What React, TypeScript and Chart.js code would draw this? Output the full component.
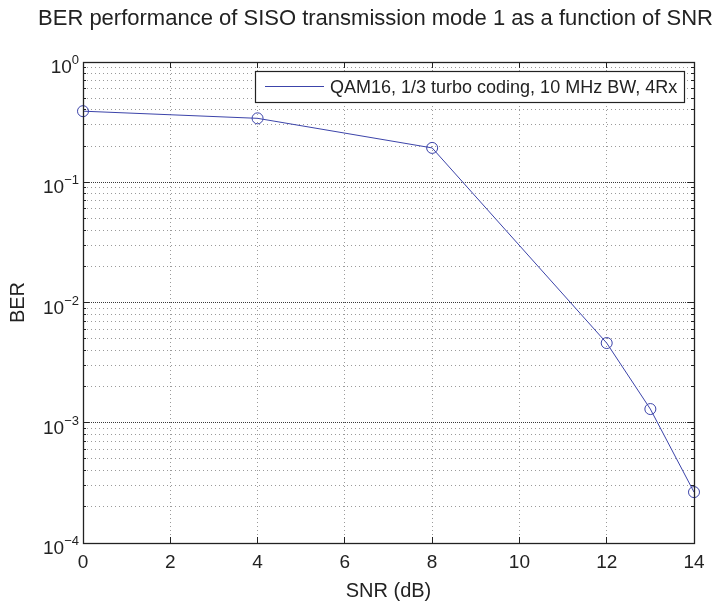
import { useEffect, useRef } from 'react';
import { Chart, registerables } from 'chart.js';

Chart.register(...registerables);

// ---- data ----
const snrDb = [0, 4, 8, 12, 13, 14];
const ber = [0.39, 0.34, 0.193, 0.0046, 0.0013, 0.000265];
const xTickValues = [0, 2, 4, 6, 8, 10, 12, 14];
const yDecadeExponents = [-4, -3, -2, -1, 0];
const yMinorMultipliers = [1, 2, 3, 4, 5, 6, 7, 8, 9];
const seriesLabel = 'QAM16, 1/3 turbo coding, 10 MHz BW, 4Rx';
const chartTitle = 'BER performance of SISO transmission mode 1 as a function of SNR';
const xTitle = 'SNR (dB)';
const yTitle = 'BER';

// ---- style ----
const FONT = '"Liberation Sans", Arial, Helvetica, sans-serif';
const TEXT = '#222222';
const SERIES_COLOR = 'rgb(60,68,170)';

const yTickValues: number[] = [];
yDecadeExponents.forEach((e) => {
  if (e === 0) {
    yTickValues.push(1);
  } else {
    yMinorMultipliers.forEach((m) => yTickValues.push(m * Math.pow(10, e)));
  }
});
const isDecade = (v: number) => Math.abs(Math.log10(v) - Math.round(Math.log10(v))) < 1e-9;

const crisp = (p: number) => Math.round(p) + 0.5;

const matlabPlugin = {
  id: 'matlabLook',
  beforeDraw(chart: any) {
    const { ctx, width, height } = chart;
    ctx.save();
    ctx.fillStyle = '#ffffff';
    ctx.fillRect(0, 0, width, height);
    ctx.restore();
  },
  beforeDatasetsDraw(chart: any) {
    const { ctx, chartArea } = chart;
    const ys = chart.scales.y;
    ctx.save();
    ctx.strokeStyle = '#3a3a3a';
    ctx.lineWidth = 1;
    ctx.setLineDash([1, 3]);
    ctx.lineDashOffset = 2;
    yDecadeExponents.forEach((e) => {
      const y = crisp(ys.getPixelForValue(Math.pow(10, e)) - 0.5);
      ctx.beginPath();
      ctx.moveTo(chartArea.left, y);
      ctx.lineTo(chartArea.right, y);
      ctx.stroke();
    });
    ctx.restore();
  },
  afterDatasetsDraw(chart: any) {
    const { ctx, chartArea, width } = chart;
    const xs = chart.scales.x;
    const ys = chart.scales.y;
    const { left, right, top, bottom } = chartArea;

    ctx.save();
    // inward tick marks
    ctx.strokeStyle = '#222';
    ctx.lineWidth = 1;
    ctx.setLineDash([]);
    xTickValues.forEach((v) => {
      const x = crisp(xs.getPixelForValue(v) - 0.5);
      ctx.beginPath();
      ctx.moveTo(x, bottom);
      ctx.lineTo(x, bottom - 6);
      ctx.moveTo(x, top);
      ctx.lineTo(x, top + 6);
      ctx.stroke();
    });
    yTickValues.forEach((v) => {
      const y = crisp(ys.getPixelForValue(v) - 0.5);
      const len = isDecade(v) ? 6 : 3;
      ctx.beginPath();
      ctx.moveTo(left, y);
      ctx.lineTo(left + len, y);
      ctx.moveTo(right, y);
      ctx.lineTo(right - len, y);
      ctx.stroke();
    });
    // axes box
    ctx.lineWidth = 1.3;
    ctx.strokeStyle = '#222';
    ctx.strokeRect(Math.round(left) + 0.5, Math.round(top) + 0.5, Math.round(right - left), Math.round(bottom - top));

    // x tick labels
    ctx.fillStyle = TEXT;
    ctx.font = `19px ${FONT}`;
    ctx.textAlign = 'center';
    ctx.textBaseline = 'alphabetic';
    xTickValues.forEach((v) => {
      ctx.fillText(String(v), xs.getPixelForValue(v), bottom + 25);
    });

    // y tick labels: 10^e
    yDecadeExponents.forEach((e) => {
      const y = ys.getPixelForValue(Math.pow(10, e));
      const expStr = e < 0 ? '\u2212' + String(-e) : String(e);
      ctx.font = `13px ${FONT}`;
      const we = ctx.measureText(expStr).width;
      ctx.font = `19px ${FONT}`;
      const wb = ctx.measureText('10').width;
      const xEnd = left - 4;
      ctx.textAlign = 'left';
      ctx.font = `19px ${FONT}`;
      ctx.fillText('10', xEnd - we - wb, y + 11);
      ctx.font = `13px ${FONT}`;
      ctx.fillText(expStr, xEnd - we, y + 2);
    });

    // axis titles
    ctx.font = `20px ${FONT}`;
    ctx.textAlign = 'center';
    ctx.fillText(xTitle, (left + right) / 2, bottom + 54);
    ctx.save();
    ctx.translate(24, (top + bottom) / 2);
    ctx.rotate(-Math.PI / 2);
    ctx.fillText(yTitle, 0, 0);
    ctx.restore();

    // chart title
    ctx.font = `22px ${FONT}`;
    const tw = ctx.measureText(chartTitle).width;
    const cx = Math.min((left + right) / 2, width - tw / 2 - 7);
    ctx.fillText(chartTitle, cx, 25);

    // legend
    const ds = chart.data.datasets[0];
    ctx.font = `18px ${FONT}`;
    const lw = ctx.measureText(ds.label).width;
    const boxRight = Math.round(right - 10);
    const boxTop = Math.round(top + 9);
    const boxH = 31;
    const boxW = Math.round(lw + 7 + 6 + 59 + 10);
    const boxLeft = boxRight - boxW;
    ctx.fillStyle = '#ffffff';
    ctx.fillRect(boxLeft, boxTop, boxW, boxH);
    ctx.lineWidth = 1.2;
    ctx.strokeStyle = '#222';
    ctx.strokeRect(boxLeft + 0.5, boxTop + 0.5, boxW, boxH);
    const ly = boxTop + 15.5;
    ctx.strokeStyle = ds.borderColor;
    ctx.lineWidth = 1;
    ctx.beginPath();
    ctx.moveTo(boxLeft + 10, ly);
    ctx.lineTo(boxLeft + 69, ly);
    ctx.stroke();
    ctx.fillStyle = TEXT;
    ctx.textAlign = 'left';
    ctx.fillText(ds.label, boxLeft + 75, boxTop + 22);
    ctx.restore();
  },
};

export default function App() {
  const canvasRef = useRef<HTMLCanvasElement | null>(null);

  useEffect(() => {
    document.body.style.margin = '0';
    const canvas = canvasRef.current;
    if (!canvas) return;
    const chart = new Chart(canvas, {
      type: 'line',
      data: {
        datasets: [
          {
            label: seriesLabel,
            data: snrDb.map((x, i) => ({ x, y: ber[i] })),
            borderColor: SERIES_COLOR,
            backgroundColor: 'rgba(0,0,0,0)',
            borderWidth: 1,
            pointStyle: 'circle',
            pointRadius: 5.5,
            pointBorderWidth: 1,
            pointBorderColor: SERIES_COLOR,
            pointBackgroundColor: 'rgba(0,0,0,0)',
            tension: 0,
            fill: false,
            clip: false,
          } as any,
        ],
      },
      options: {
        responsive: false,
        animation: false,
        devicePixelRatio: 1,
        layout: { padding: { left: 83, top: 62, right: 26, bottom: 59 } },
        plugins: {
          legend: { display: false },
          title: { display: false },
          tooltip: { enabled: false },
        },
        scales: {
          x: {
            type: 'linear',
            min: 0,
            max: 14,
            ticks: { display: false, stepSize: 2 },
            afterBuildTicks: (s: any) => {
              s.ticks = xTickValues.map((v) => ({ value: v }));
            },
            afterFit: (s: any) => {
              s.height = 0;
            },
            grid: { color: '#9a9a9a', lineWidth: 1, drawTicks: false },
            border: { display: false, dash: [1, 3] },
          },
          y: {
            type: 'logarithmic',
            min: 1e-4,
            max: 1,
            ticks: { display: false },
            afterBuildTicks: (s: any) => {
              s.ticks = yTickValues.map((v) => ({ value: v }));
            },
            afterFit: (s: any) => {
              s.width = 0;
            },
            grid: {
              color: (c: any) => (c.tick && isDecade(c.tick.value) ? '#3a3a3a' : '#9a9a9a'),
              lineWidth: 1,
              drawTicks: false,
            },
            border: { display: false, dash: [1, 3] },
          },
        },
      } as any,
      plugins: [matlabPlugin],
    });
    return () => chart.destroy();
  }, []);

  return (
    <div style={{ width: 720, height: 602 }}>
      <canvas ref={canvasRef} width={720} height={602} style={{ display: 'block' }} />
    </div>
  );
}
